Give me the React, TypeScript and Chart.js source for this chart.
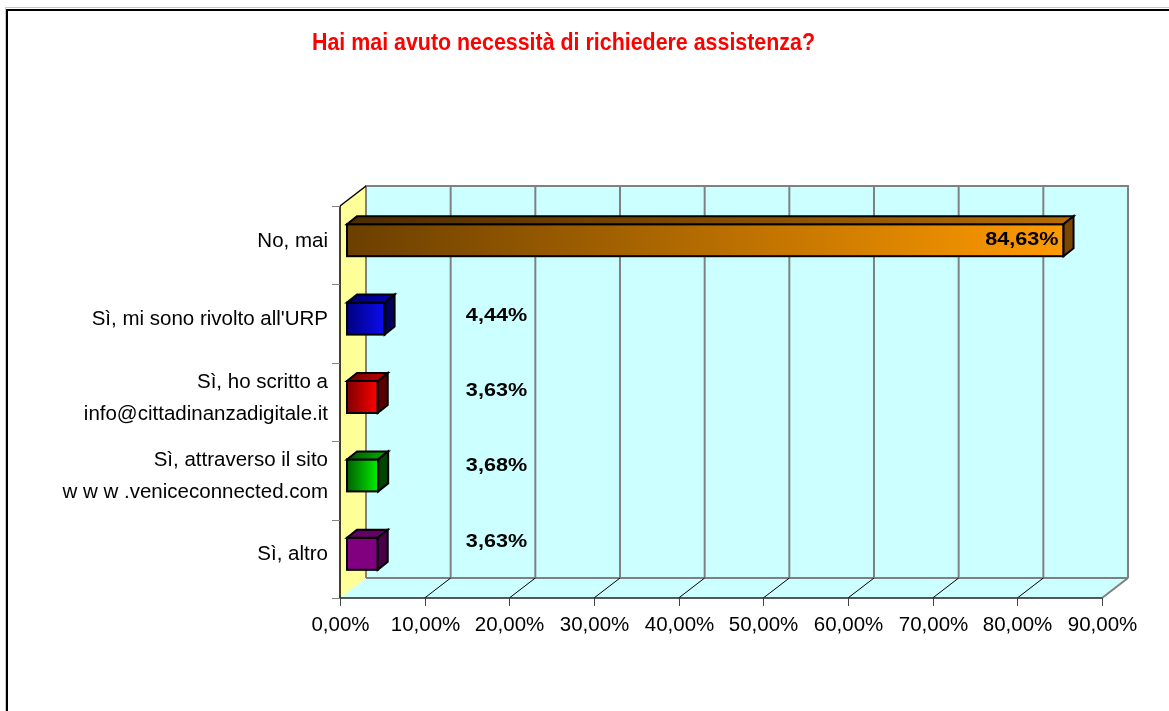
import { useEffect, useRef } from "react";
import { Chart, registerables } from "chart.js";

Chart.register(...registerables);

const TITLE = "Hai mai avuto necessità di richiedere assistenza?";
const CATEGORIES: string[][] = [
  ["No, mai"],
  ["Sì, mi sono rivolto all'URP"],
  ["Sì, ho scritto a", "info@cittadinanzadigitale.it"],
  ["Sì, attraverso il sito", "w w w .veniceconnected.com"],
  ["Sì, altro"],
];
const VALUES = [84.63, 4.44, 3.63, 3.68, 3.63];
const VALUE_LABELS = ["84,63%", "4,44%", "3,63%", "3,68%", "3,63%"];
const X_TICKS = [0, 10, 20, 30, 40, 50, 60, 70, 80, 90];
const X_TICK_LABELS = ["0,00%", "10,00%", "20,00%", "30,00%", "40,00%", "50,00%", "60,00%", "70,00%", "80,00%", "90,00%"];

const FRONT_COLORS = [
  ["#6B3F00", "#FF9A00"],
  ["#000080", "#0C0CF0"],
  ["#800000", "#FF0000"],
  ["#006000", "#00F000"],
  ["#800080", "#800080"],
];
const TOP_COLORS = [
  ["#4A2C00", "#B56C00"],
  ["#00006A", "#0000A8"],
  ["#6A0000", "#B00000"],
  ["#005000", "#00A000"],
  ["#660066", "#660066"],
];
const SIDE_COLORS = ["#7A4600", "#000058", "#580000", "#004400", "#480048"];

const FONT = "'Liberation Sans', Arial, sans-serif";
const DEPTH_X = 26;
const DEPTH_Y = -20;
const BAR_SHIFT_X = 7;
const BAR_SHIFT_Y = -5;
const BAR_DX = 10;
const BAR_DY = -8;

function drawText(
  ctx: CanvasRenderingContext2D,
  s: string,
  x: number,
  y: number,
  font: string,
  color: string,
  align: CanvasTextAlign,
  sx = 1,
  maxW?: number
) {
  ctx.save();
  ctx.translate(x, y);
  ctx.scale(sx, 1);
  ctx.font = font;
  ctx.fillStyle = color;
  ctx.textAlign = align;
  ctx.textBaseline = "middle";
  if (maxW) ctx.fillText(s, 0, 0, maxW);
  else ctx.fillText(s, 0, 0);
  ctx.restore();
}

function line(ctx: CanvasRenderingContext2D, x1: number, y1: number, x2: number, y2: number, color: string, w: number) {
  ctx.save();
  ctx.strokeStyle = color;
  ctx.lineWidth = w;
  ctx.beginPath();
  ctx.moveTo(x1, y1);
  ctx.lineTo(x2, y2);
  ctx.stroke();
  ctx.restore();
}

function poly(ctx: CanvasRenderingContext2D, pts: number[][], fill: string | CanvasGradient, stroke?: string, w = 1) {
  ctx.beginPath();
  pts.forEach((p, i) => (i === 0 ? ctx.moveTo(p[0], p[1]) : ctx.lineTo(p[0], p[1])));
  ctx.closePath();
  ctx.fillStyle = fill;
  ctx.fill();
  if (stroke) {
    ctx.strokeStyle = stroke;
    ctx.lineWidth = w;
    ctx.lineJoin = "miter";
    ctx.stroke();
  }
}

const scenePlugin = {
  id: "scene3d",
  beforeDraw(chart: any) {
    const ctx: CanvasRenderingContext2D = chart.ctx;
    ctx.save();
    ctx.fillStyle = "#ffffff";
    ctx.fillRect(0, 0, chart.width, chart.height);
    // frame
    ctx.fillStyle = "#c8c8c8";
    ctx.fillRect(5, 7, chart.width, 1);
    ctx.fillRect(5, 7, 1, chart.height);
    ctx.fillStyle = "#000000";
    ctx.fillRect(6, 9, chart.width, 2);
    ctx.fillRect(6, 9, 2, chart.height);
    // title
    drawText(ctx, TITLE, 563.5, 43, `bold 24px ${FONT}`, "#FF0000", "center", 1, 503);
    ctx.restore();
  },
  beforeDatasetsDraw(chart: any) {
    const ctx: CanvasRenderingContext2D = chart.ctx;
    const xs = chart.scales.x;
    const ys = chart.scales.y;
    const L = xs.getPixelForValue(X_TICKS[0]);
    const R = xs.getPixelForValue(X_TICKS[X_TICKS.length - 1]);
    const T = chart.chartArea.top;
    const B = chart.chartArea.bottom;
    const dx = DEPTH_X;
    const dy = DEPTH_Y;
    ctx.save();
    // back wall
    poly(ctx, [[L + dx, T + dy], [R + dx, T + dy], [R + dx, B + dy], [L + dx, B + dy]], "#CCFFFF");
    // floor
    poly(ctx, [[L, B], [R, B], [R + dx, B + dy], [L + dx, B + dy]], "#CCFFFF");
    // left wall
    poly(ctx, [[L, T], [L + dx, T + dy], [L + dx, B + dy], [L, B]], "#FFFF99");
    // back grid lines
    X_TICKS.forEach((v) => {
      const px = xs.getPixelForValue(v) + dx;
      line(ctx, px, T + dy, px, B + dy, "#808080", 2);
    });
    line(ctx, L + dx - 1, T + dy, R + dx + 1, T + dy, "#808080", 2);
    line(ctx, L + dx, B + dy, R + dx, B + dy, "#808080", 2);
    // floor diagonals
    X_TICKS.forEach((v, i) => {
      const px = xs.getPixelForValue(v);
      if (i === 0) return;
      if (i === X_TICKS.length - 1) line(ctx, px, B, px + dx, B + dy, "#808080", 2);
      else line(ctx, px, B, px + dx, B + dy, "#000000", 1);
    });
    // left wall edges
    line(ctx, L, T, L + dx, T + dy, "#000000", 1.5);
    line(ctx, L, T, L, B, "#000000", 1.5);
    // x axis
    line(ctx, L, B, R, B, "#202020", 1.5);
    X_TICKS.forEach((v, i) => {
      const px = Math.round(xs.getPixelForValue(v)) + 0.5;
      line(ctx, px, B, px, B + 8, "#404040", 1);
      drawText(ctx, X_TICK_LABELS[i], px, B + 27, `20.5px ${FONT}`, "#000000", "center");
    });
    // y ticks and category labels
    const half = (ys.getPixelForValue(1) - ys.getPixelForValue(0)) / 2;
    CATEGORIES.forEach((lines, i) => {
      const c = ys.getPixelForValue(i);
      const yb = Math.round(c - half) + 0.5;
      line(ctx, L - 8, yb, L, yb, "#808080", 1);
      if (i === CATEGORIES.length - 1) {
        const ye = Math.round(c + half) + 0.5;
        line(ctx, L - 8, ye, L, ye, "#808080", 1);
      }
      const lh = 32;
      const start = c - 4 - ((lines.length - 1) * lh) / 2;
      lines.forEach((s, k) => {
        drawText(ctx, s, L - 12, start + k * lh, `20.5px ${FONT}`, "#000000", "right");
      });
    });
    ctx.restore();
    // shift bars into the middle of the depth
    ctx.save();
    ctx.translate(BAR_SHIFT_X, BAR_SHIFT_Y);
  },
  afterDatasetsDraw(chart: any) {
    const ctx: CanvasRenderingContext2D = chart.ctx;
    const meta = chart.getDatasetMeta(0);
    meta.data.forEach((el: any, i: number) => {
      const { x, y, base, height } = el.getProps(["x", "y", "base", "height"], true);
      const top = y - height / 2;
      const bot = y + height / 2;
      ctx.save();
      // front outline
      ctx.strokeStyle = "#000000";
      ctx.lineWidth = 2;
      ctx.strokeRect(base, top, x - base, height);
      // top face
      const g = ctx.createLinearGradient(base, 0, x, 0);
      g.addColorStop(0, TOP_COLORS[i][0]);
      g.addColorStop(1, TOP_COLORS[i][1]);
      poly(ctx, [[base, top], [x, top], [x + BAR_DX, top + BAR_DY], [base + BAR_DX, top + BAR_DY]], g, "#000000", 2);
      // side face
      poly(ctx, [[x, top], [x + BAR_DX, top + BAR_DY], [x + BAR_DX, bot + BAR_DY], [x, bot]], SIDE_COLORS[i], "#000000", 2);
      ctx.restore();
    });
    ctx.restore();
    // data labels
    const xs = chart.scales.x;
    const ys = chart.scales.y;
    meta.data.forEach((el: any, i: number) => {
      const c = ys.getPixelForValue(i);
      let rx: number;
      let yy: number;
      if (i === 0) {
        rx = el.x + BAR_SHIFT_X - 5;
        yy = el.y + BAR_SHIFT_Y;
      } else {
        rx = xs.getPixelForValue(22.1);
        yy = c - 5 - 3 * i;
      }
      ctx.save();
      ctx.translate(rx, yy);
      ctx.scale(1.2, 1);
      ctx.font = `bold 18px ${FONT}`;
      ctx.fillStyle = "#000000";
      ctx.textAlign = "right";
      ctx.textBaseline = "middle";
      ctx.fillText(VALUE_LABELS[i], 0, 0);
      ctx.restore();
    });
  },
};

export default function App() {
  const ref = useRef<HTMLCanvasElement | null>(null);
  useEffect(() => {
    if (!ref.current) return;
    const chart = new Chart(ref.current, {
      type: "bar",
      data: {
        labels: CATEGORIES.map((l) => l.join(" ")),
        datasets: [
          {
            data: VALUES,
            barThickness: 32,
            borderWidth: 0,
            backgroundColor: (c: any) => {
              const chart = c.chart;
              const i = c.dataIndex ?? 0;
              const xs = chart.scales?.x;
              if (!xs || !chart.chartArea) return FRONT_COLORS[i][0];
              const g = chart.ctx.createLinearGradient(xs.getPixelForValue(0), 0, xs.getPixelForValue(VALUES[i]), 0);
              g.addColorStop(0, FRONT_COLORS[i][0]);
              g.addColorStop(1, FRONT_COLORS[i][1]);
              return g;
            },
          },
        ],
      },
      options: {
        indexAxis: "y",
        animation: false,
        responsive: false,
        events: [],
        layout: { padding: { left: 340, right: 1169 - 1102, top: 206, bottom: 711 - 598 } },
        plugins: { legend: { display: false }, tooltip: { enabled: false }, title: { display: false } },
        scales: {
          x: { type: "linear", min: 0, max: 90, display: false },
          y: { type: "category", display: false, offset: true },
        },
      },
      plugins: [scenePlugin],
    } as any);
    return () => chart.destroy();
  }, []);
  return (
    <div style={{ position: "fixed", left: 0, top: 0, width: 1169, height: 711 }}>
      <canvas ref={ref} width={1169} height={711} style={{ display: "block" }} />
    </div>
  );
}
